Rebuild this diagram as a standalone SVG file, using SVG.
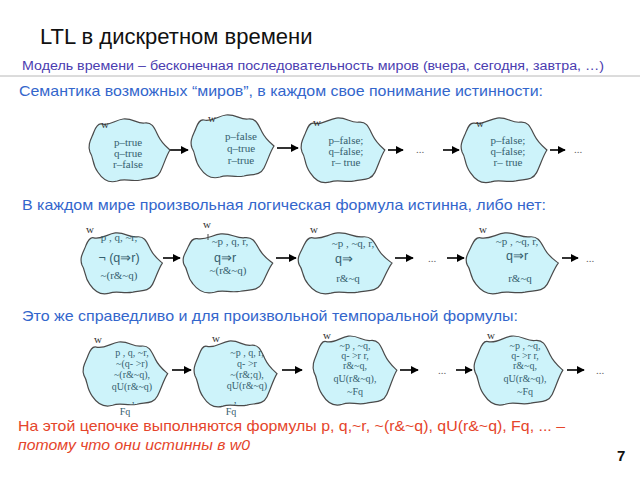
<svg xmlns="http://www.w3.org/2000/svg" xmlns:xlink="http://www.w3.org/1999/xlink" width="640" height="480" viewBox="0 0 640 480">
<style>
.h{font-family:"Liberation Sans",Arial,sans-serif}
.title{font-size:22px;fill:#111}
.sub{font-size:12.5px;fill:#4a3cb0}
.head{font-size:15px;fill:#3366cc}
.red{font-size:15px;fill:#e5452b}
.bt{font-family:"Liberation Serif","Times New Roman",serif;font-size:11px;fill:#35606e;text-anchor:middle}
.r3{font-size:10px}
.big{font-family:"Liberation Sans",Arial,sans-serif;font-size:12.5px}
.w{font-family:"Liberation Serif","Times New Roman",serif;font-size:11px;fill:#333}
.dots{font-family:"Liberation Serif",serif;font-size:11px;fill:#666}
.blob{fill:#cdf3fa;stroke:#4a4a4a;stroke-width:1.2}
.arr{stroke:#000;stroke-width:1.6;fill:none;marker-end:url(#ah)}
</style>
<defs>
<marker id="ah" viewBox="0 0 10 10" refX="9" refY="5" markerWidth="5" markerHeight="5" orient="auto">
<path d="M0,0 L10,5 L0,10 Z" fill="#000"/>
</marker>
<path id="blob" vector-effect="non-scaling-stroke" d="M14,6 C22,8 28,2 36,1 C46,0 50,6 58,5 C66,4 68,10 72,18 C76,26 82,30 84,32 C80,38 78,46 74,54 C70,62 62,60 54,62 C44,64 38,60 30,63 C20,66 14,60 10,54 C4,46 6,40 2,34 C-1,26 4,20 6,14 C8,9 10,5 14,6 Z"/>
</defs>
<rect width="640" height="480" fill="#fff"/>
<line x1="0" y1="76" x2="640" y2="76" stroke="#b8b8b8" stroke-width="1"/>
<text class="h title" x="40" y="44">LTL в дискретном времени</text>
<text class="h sub" x="22" y="70" textLength="582" lengthAdjust="spacingAndGlyphs">Модель времени – бесконечная последовательность миров (вчера, сегодня, завтра, …)</text>
<text class="h head" x="19" y="96" textLength="524" lengthAdjust="spacingAndGlyphs">Семантика возможных “миров”, в каждом свое понимание истинности:</text>
<text class="h head" x="22" y="210" textLength="524" lengthAdjust="spacingAndGlyphs">В каждом мире произвольная логическая формула истинна, либо нет:</text>
<text class="h head" x="22" y="321" textLength="496" lengthAdjust="spacingAndGlyphs">Это же справедливо и для произвольной темпоральной формулы:</text>
<text class="h red" x="18" y="431" textLength="547" lengthAdjust="spacingAndGlyphs">На этой цепочке выполняются формулы p, q,~r, ~(r&amp;~q), qU(r&amp;~q), Fq, ... –</text>
<text class="h red" x="18" y="450" font-style="italic" textLength="232" lengthAdjust="spacingAndGlyphs">потому что они истинны в w0</text>
<text class="h" x="617" y="461" font-size="15" font-weight="bold" fill="#111">7</text>

<g id="connectors">
<line class="arr" x1="170" y1="150" x2="188" y2="150"/>
<line class="arr" x1="277" y1="148" x2="298" y2="148"/>
<line class="arr" x1="388" y1="150" x2="403" y2="150"/>
<line class="arr" x1="443" y1="150" x2="459" y2="150"/>
<line class="arr" x1="550" y1="150" x2="565" y2="150"/>
<line class="arr" x1="163" y1="258" x2="180" y2="258"/>
<line class="arr" x1="276" y1="258" x2="296" y2="258"/>
<line class="arr" x1="395" y1="258" x2="413" y2="258"/>
<line class="arr" x1="447" y1="258" x2="464" y2="258"/>
<line class="arr" x1="562" y1="258" x2="578" y2="258"/>
<line class="arr" x1="172" y1="370" x2="191" y2="370"/>
<line class="arr" x1="282" y1="370" x2="302" y2="370"/>
<line class="arr" x1="400" y1="370" x2="418" y2="370"/>
<line class="arr" x1="456" y1="370" x2="472" y2="370"/>
<line class="arr" x1="567" y1="370" x2="584" y2="370"/>
<text class="dots" x="416" y="153">...</text>
<text class="dots" x="574" y="153">...</text>
<text class="dots" x="428" y="262">...</text>
<text class="dots" x="586" y="262">...</text>
<text class="dots" x="438" y="374">...</text>
<text class="dots" x="596" y="374">...</text>
</g>

<g id="w1">
<use xlink:href="#blob" class="blob" transform="translate(88,118) scale(0.976,1)"/>
<text class="w" x="101" y="128">w</text>
<text class="bt" x="128" y="146">p–true</text>
<text class="bt" x="128" y="157">q–true</text>
<text class="bt" x="128" y="168">r–false</text>
</g>
<g id="w2">
<use xlink:href="#blob" class="blob" transform="translate(190,114) scale(1,1)"/>
<text class="w" x="208" y="122">w</text>
<text class="bt" x="241" y="140">p–false</text>
<text class="bt" x="241" y="152">q–true</text>
<text class="bt" x="241" y="164">r–true</text>
</g>
<g id="w3">
<use xlink:href="#blob" class="blob" transform="translate(300,117) scale(1.01,1.03)"/>
<text class="w" x="313" y="126">w</text>
<text class="bt" x="346" y="144">p–false;</text>
<text class="bt" x="346" y="155">q–false;</text>
<text class="bt" x="346" y="166">r– true</text>
</g>
<g id="w4">
<use xlink:href="#blob" class="blob" transform="translate(460,117) scale(1.035,1.03)"/>
<text class="w" x="476" y="127">w</text>
<text class="bt" x="508" y="144">p–false;</text>
<text class="bt" x="508" y="155">q–false;</text>
<text class="bt" x="508" y="166">r– true</text>
</g>

<g id="w5">
<use xlink:href="#blob" class="blob" transform="translate(80,232) scale(0.98,0.97)"/>
<text class="w" x="86" y="233">w</text>
<text class="bt" x="119" y="241">p , q, ~r,</text>
<text class="bt big" x="119" y="262">¬ (q⇒r)</text>
<text class="bt" x="119" y="279" font-size="12">~(r&amp;~q)</text>
</g>
<g id="w6">
<use xlink:href="#blob" class="blob" transform="translate(182,233) scale(1.08,0.94)"/>
<text class="w" x="203" y="228">w</text>
<line x1="208" y1="234" x2="208" y2="240" stroke="#4a4a4a" stroke-width="1"/>
<text class="bt" x="230" y="245">~p , q, r,</text>
<text class="bt big" x="225" y="262">q⇒r</text>
<text class="bt" x="228" y="274">~(r&amp;~q)</text>
</g>
<g id="w7">
<use xlink:href="#blob" class="blob" transform="translate(297,232) scale(1.13,0.97)"/>
<text class="w" x="310" y="233">w</text>
<text class="bt" x="353" y="247">~p , ~q, r,</text>
<text class="bt big" x="344" y="263">q⇒</text>
<text class="bt" x="348" y="282" font-size="12">r&amp;~q</text>
</g>
<g id="w8">
<use xlink:href="#blob" class="blob" transform="translate(465,232) scale(1.11,0.97)"/>
<text class="w" x="479" y="233">w</text>
<text class="bt" x="517" y="245">~p , ~q, r,</text>
<text class="bt big" x="517" y="260">q⇒r</text>
<text class="bt" x="520" y="282" font-size="12">r&amp;~q</text>
</g>

<g id="w9">
<use xlink:href="#blob" class="blob" transform="translate(82,341) scale(1.02,1.02)"/>
<text class="w" x="94" y="343">w</text>
<text class="bt r3" x="132" y="356">p , q, ~r,</text>
<text class="bt r3" x="132" y="367">~(q- &gt;r)</text>
<text class="bt r3" x="132" y="378">~(r&amp;~q),</text>
<text class="bt r3" x="132" y="390">qU(r&amp;~q)</text>
<text class="bt" x="133" y="403" font-size="7">,</text>
<text class="bt r3" x="125" y="415">Fq</text>
</g>
<g id="w10">
<use xlink:href="#blob" class="blob" transform="translate(193,340) scale(1,1.05)"/>
<text class="w" x="212" y="342">w</text>
<text class="bt r3" x="247" y="356">~p , q, r,</text>
<text class="bt r3" x="247" y="367">q- &gt;r</text>
<text class="bt r3" x="247" y="378">~(r&amp;;q),</text>
<text class="bt r3" x="247" y="389">qU(r&amp;~q)</text>
<text class="bt" x="235" y="403" font-size="7">,</text>
<text class="bt r3" x="231" y="415">Fq</text>
</g>
<g id="w11">
<use xlink:href="#blob" class="blob" transform="translate(312,335) scale(1.01,1.1)"/>
<text class="w" x="323" y="339">w</text>
<text class="bt r3" x="355" y="349">~p ,  ~q,</text>
<text class="bt r3" x="355" y="359">q- &gt;r r,</text>
<text class="bt r3" x="355" y="369">r&amp;~q,</text>
<text class="bt r3" x="355" y="382">qU(r&amp;~q),</text>
<text class="bt r3" x="355" y="395">~Fq</text>
</g>
<g id="w12">
<use xlink:href="#blob" class="blob" transform="translate(473,335) scale(1.07,1.1)"/>
<text class="w" x="487" y="339">w</text>
<text class="bt r3" x="525" y="349">~p ,  ~q,</text>
<text class="bt r3" x="525" y="359">q- &gt;r r,</text>
<text class="bt r3" x="525" y="369">r&amp;~q,</text>
<text class="bt r3" x="525" y="382">qU(r&amp;~q),</text>
<text class="bt r3" x="525" y="395">~Fq</text>
</g>
</svg>
